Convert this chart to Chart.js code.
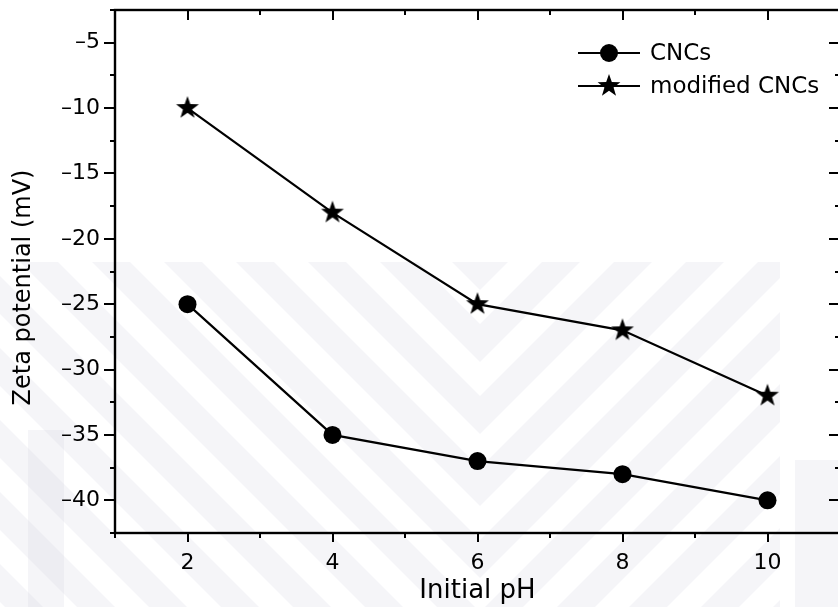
<!DOCTYPE html>
<html>
<head>
<meta charset="utf-8">
<title>Zeta potential vs initial pH</title>
<script src="https://cdn.jsdelivr.net/npm/chart.js@4.4.1/dist/chart.umd.min.js"></script>
<style>
  html, body { margin: 0; padding: 0; background: #fff; overflow: hidden; }
  #wrap { width: 850px; height: 607px; }
</style>
</head>
<body>
<div id="wrap"><canvas id="chart"></canvas></div>
<script>
// measured zeta potentials (mV) at each initial pH
const phValues = [2, 4, 6, 8, 10];
const cncZeta = [-25, -35, -37, -38, -40];
const modifiedZeta = [-10, -18, -25, -27, -32];
const seriesNames = ['CNCs', 'modified CNCs'];
const xTickValues = [2, 4, 6, 8, 10];
const yTickValues = [-40, -35, -30, -25, -20, -15, -10, -5];
const xTitle = 'Initial pH';
const yTitle = 'Zeta potential (mV)';

const FONT = "'DejaVu Sans', sans-serif";

// filled five-point star used as a point marker
function makeStar(size, outer, inner) {
    const c = document.createElement('canvas');
    c.width = size;
    c.height = size;
    const g = c.getContext('2d');
    g.translate(size / 2, size / 2);
    g.beginPath();
    for (let i = 0; i < 10; i++) {
        const r = i % 2 === 0 ? outer : inner;
        const a = -Math.PI / 2 + i * Math.PI / 5;
        g.lineTo(r * Math.cos(a), r * Math.sin(a));
    }
    g.closePath();
    g.fillStyle = '#000';
    g.fill();
    return c;
}
const starMarker = makeStar(26, 12, 4.8);

function toPoints(ys) {
    return phValues.map((x, i) => ({ x: x, y: ys[i] }));
}

// faint striped background pattern
const backdrop = {
    id: 'backdrop',
    beforeDraw(chart) {
        const ctx = chart.ctx;
        const w = chart.width, h = chart.height;
        ctx.save();
        ctx.fillStyle = '#fff';
        ctx.fillRect(0, 0, w, h);
        ctx.fillStyle = 'rgba(205, 205, 222, 0.2)';
        const mid = 480, top = 262;
        // left half: bands running down to the right
        ctx.save();
        ctx.beginPath();
        ctx.rect(0, top, mid, h - top);
        ctx.clip();
        for (let c = -700; c < 900; c += 72) {
            ctx.beginPath();
            ctx.moveTo(c, top);
            ctx.lineTo(c + 38, top);
            ctx.lineTo(c + 38 + h, top + h);
            ctx.lineTo(c + h, top + h);
            ctx.closePath();
            ctx.fill();
        }
        ctx.restore();
        // right half: mirrored bands running up to the right
        ctx.save();
        ctx.beginPath();
        ctx.rect(mid, top, 300, h - top);
        ctx.clip();
        for (let c = -700; c < 900; c += 72) {
            ctx.beginPath();
            ctx.moveTo(2 * mid - c, top);
            ctx.lineTo(2 * mid - c - 38, top);
            ctx.lineTo(2 * mid - c - 38 - h, top + h);
            ctx.lineTo(2 * mid - c - h, top + h);
            ctx.closePath();
            ctx.fill();
        }
        ctx.restore();
        // vertical bars at both sides
        ctx.fillRect(28, 430, 36, h - 430);
        ctx.fillRect(795, 460, 60, h - 460);
        ctx.restore();
    }
};

// closed frame with major/minor tick marks on all four sides, plus the y title
const frame = {
    id: 'frame',
    afterDraw(chart) {
        const ctx = chart.ctx;
        const a = chart.chartArea;
        const xs = chart.scales.x, ys = chart.scales.y;
        ctx.save();
        ctx.strokeStyle = '#000';
        ctx.lineWidth = 2.4;
        ctx.lineCap = 'butt';
        ctx.strokeRect(a.left, a.top, a.right - a.left, a.bottom - a.top);
        ctx.lineWidth = 2;
        ctx.beginPath();
        for (let v = 1; v <= 11; v += 1) {
            const px = Math.round(xs.getPixelForValue(v));
            const major = xTickValues.includes(v);
            const down = major ? 9 : 5;
            const inward = major ? 10 : 5;
            ctx.moveTo(px, a.bottom);
            ctx.lineTo(px, a.bottom + down);
            ctx.moveTo(px, a.top);
            ctx.lineTo(px, a.top + inward);
        }
        for (let v = -42.5; v <= -2.5; v += 2.5) {
            const py = Math.round(ys.getPixelForValue(v));
            const major = yTickValues.includes(v);
            const len = major ? 11 : 5;
            ctx.moveTo(a.left, py);
            ctx.lineTo(a.left - len, py);
            ctx.moveTo(a.right, py);
            ctx.lineTo(a.right - len, py);
        }
        ctx.stroke();

        // rotated y-axis title, sitting a little below the plot's middle
        ctx.translate(24, (a.top + a.bottom) / 2 + 16);
        ctx.rotate(-Math.PI / 2);
        ctx.fillStyle = '#000';
        ctx.font = '24px ' + FONT;
        ctx.textAlign = 'center';
        ctx.textBaseline = 'middle';
        ctx.fillText(yTitle, 0, 0);
        ctx.restore();
    }
};

// legend with line-through-marker samples, placed inside the plot
const insideLegend = {
    id: 'insideLegend',
    afterDatasetsDraw(chart) {
        const ctx = chart.ctx;
        const a = chart.chartArea;
        const x0 = a.right - 262, x1 = a.right - 200, xm = (x0 + x1) / 2;
        const rows = [a.top + 43, a.top + 76];
        ctx.save();
        chart.data.datasets.forEach((ds, i) => {
            const y = rows[i];
            ctx.strokeStyle = '#000';
            ctx.lineWidth = 2.2;
            ctx.beginPath();
            ctx.moveTo(x0, y);
            ctx.lineTo(x1, y);
            ctx.stroke();
            if (ds.pointStyle === 'circle') {
                ctx.fillStyle = '#000';
                ctx.beginPath();
                ctx.arc(xm, y, ds.pointRadius, 0, Math.PI * 2);
                ctx.fill();
            } else {
                ctx.drawImage(ds.pointStyle, xm - ds.pointStyle.width / 2, y - ds.pointStyle.height / 2);
            }
            ctx.fillStyle = '#000';
            ctx.font = '23px ' + FONT;
            ctx.textBaseline = 'middle';
            ctx.textAlign = 'left';
            ctx.fillText(ds.label, x1 + 10, y + 1);
        });
        ctx.restore();
    }
};

const ctx = document.getElementById('chart').getContext('2d');
const chart = new Chart(ctx, {
    type: 'line',
    data: {
        datasets: [
            {
                label: seriesNames[0],
                data: toPoints(cncZeta),
                borderColor: '#000',
                backgroundColor: '#000',
                borderWidth: 2.2,
                pointStyle: 'circle',
                pointRadius: 9,
                pointBorderWidth: 0,
                tension: 0
            },
            {
                label: seriesNames[1],
                data: toPoints(modifiedZeta),
                borderColor: '#000',
                backgroundColor: '#000',
                borderWidth: 2.2,
                pointStyle: starMarker,
                pointRadius: 10,
                pointBorderWidth: 0,
                tension: 0
            }
        ]
    },
    options: {
        responsive: true,
        maintainAspectRatio: false,
        animation: false,
        events: [],
        layout: { padding: { top: 10, right: 6, left: 0, bottom: 0 } },
        plugins: {
            legend: { display: false },
            tooltip: { enabled: false }
        },
        scales: {
            x: {
                type: 'linear',
                min: 1,
                max: 11,
                grid: { display: false, drawTicks: false },
                border: { display: false },
                afterBuildTicks: s => { s.ticks = xTickValues.map(v => ({ value: v })); },
                afterFit: s => { s.height = 74; s.paddingLeft = 0; s.paddingRight = 0; },
                ticks: {
                    color: '#000',
                    font: { family: FONT, size: 22 },
                    padding: 17,
                    maxRotation: 0
                },
                title: {
                    display: true,
                    text: xTitle,
                    color: '#000',
                    font: { family: FONT, size: 26 },
                    padding: { top: 0, bottom: 0 }
                }
            },
            y: {
                type: 'linear',
                min: -42.5,
                max: -2.5,
                grid: { display: false, drawTicks: false },
                border: { display: false },
                afterBuildTicks: s => { s.ticks = yTickValues.map(v => ({ value: v })); },
                afterFit: s => { s.width = 115; s.paddingTop = 0; s.paddingBottom = 0; },
                ticks: {
                    color: '#000',
                    font: { family: FONT, size: 22 },
                    padding: 15,
                    callback: v => String(v).replace('-', '\u2013')
                },
                title: { display: false }
            }
        }
    },
    plugins: [backdrop, frame, insideLegend]
});
</script>
</body>
</html>
